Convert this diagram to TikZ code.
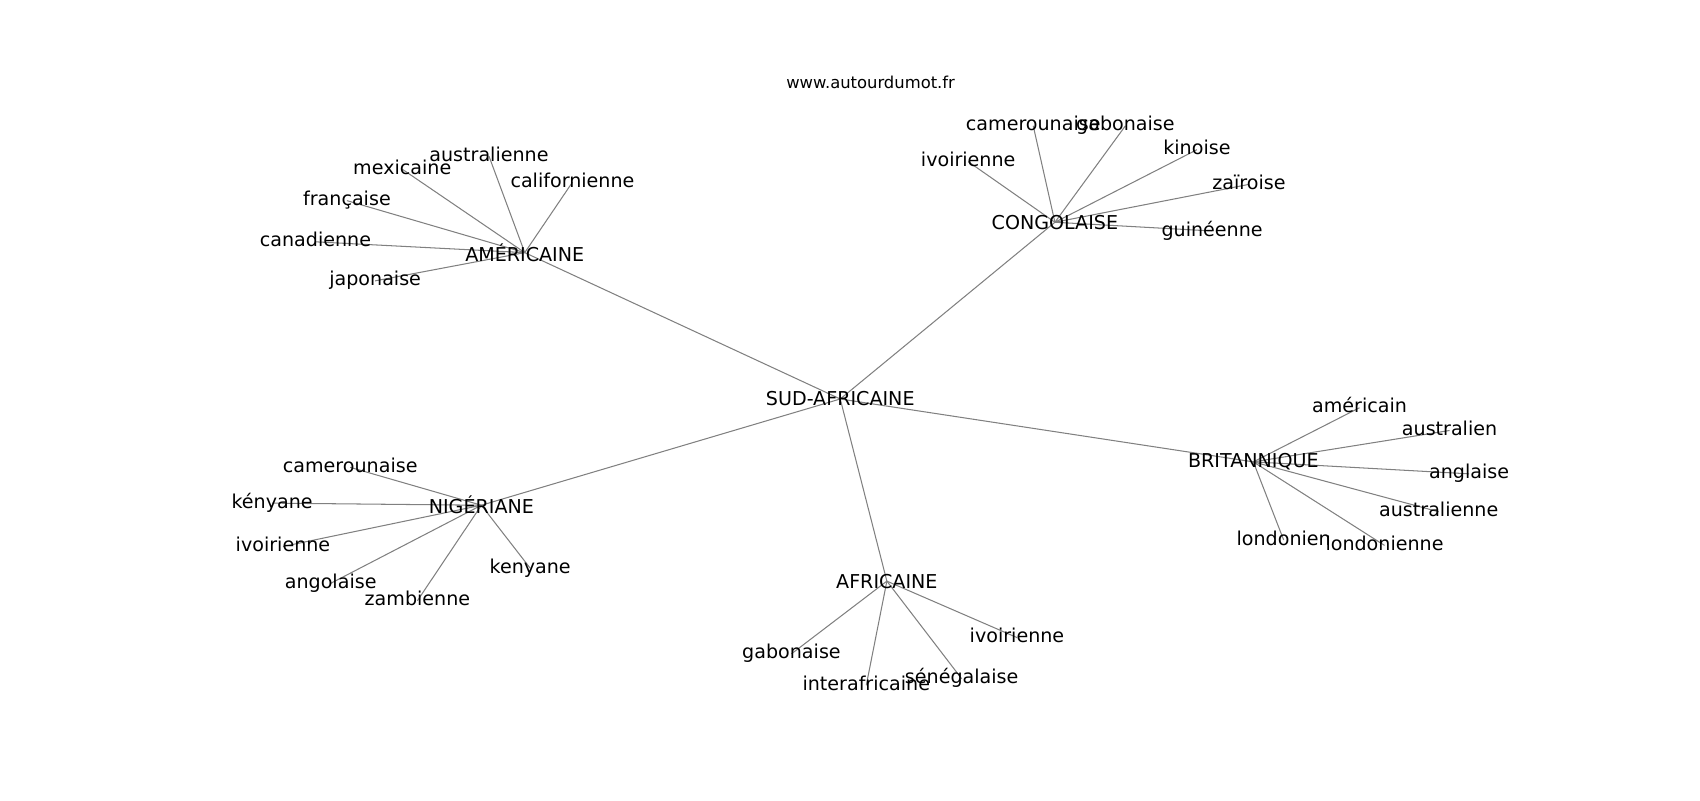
\documentclass[tikz,border=0pt]{standalone}
\usepackage{fontspec}
\setmainfont{DejaVu Sans}
\pgfdeclarelayer{background}
\pgfsetlayers{background,main}
\tikzset{
  lbl/.style={inner sep=0pt, anchor=center, font=\fontsize{13.75}{16}\selectfont, text=black},
  leaf/.style={lbl, text height=0.73em, text depth=0pt, yshift=-1.6pt},
  ttl/.style={inner sep=0pt, anchor=center, font=\fontsize{11.8}{14}\selectfont, text=black},
  edge/.style={draw=black!50, line width=0.75pt}
}
\begin{document}
\begin{tikzpicture}[x=0.7806pt,y=-0.7806pt]
\useasboundingbox (0,0) rectangle (1568,738);
\node[ttl] (title) at (803,76) {www.autourdumot.fr};
% hubs
\node[lbl] (sud) at (775,368) {SUD-AFRICAINE};
\node[lbl] (am) at (484,233) {AMÉRICAINE};
\node[lbl] (co) at (973,205) {CONGOLAISE};
\node[lbl] (ni) at (444,466) {NIGÉRIANE};
\node[lbl] (af) at (818,536) {AFRICAINE};
\node[lbl] (br) at (1156,426) {BRITANNIQUE};
% AMERICAINE leaves
\node[leaf] (am1) at (451,142) {australienne};
\node[leaf] (am2) at (371,154) {mexicaine};
\node[leaf] (am3) at (528,166) {californienne};
\node[leaf] (am4) at (320,183) {française};
\node[leaf] (am5) at (291,221) {canadienne};
\node[leaf] (am6) at (346,257) {japonaise};
% CONGOLAISE leaves
\node[leaf] (co1) at (953,114) {camerounaise};
\node[leaf] (co2) at (1038,114) {gabonaise};
\node[leaf] (co3) at (893,147) {ivoirienne};
\node[leaf] (co4) at (1104,136) {kinoise};
\node[leaf] (co5) at (1152,168) {zaïroise};
\node[leaf] (co6) at (1118,211) {guinéenne};
% NIGERIANE leaves
\node[leaf] (ni1) at (323,429) {camerounaise};
\node[leaf] (ni2) at (251,462) {kényane};
\node[leaf] (ni3) at (261,502) {ivoirienne};
\node[leaf] (ni4) at (305,536) {angolaise};
\node[leaf] (ni5) at (385,552) {zambienne};
\node[leaf] (ni6) at (489,522) {kenyane};
% AFRICAINE leaves
\node[leaf] (af1) at (730,601) {gabonaise};
\node[leaf] (af2) at (799,630) {interafricaine};
\node[leaf] (af3) at (887,624) {sénégalaise};
\node[leaf] (af4) at (938,586) {ivoirienne};
% BRITANNIQUE leaves
\node[leaf] (br1) at (1254,374) {américain};
\node[leaf] (br2) at (1337,395) {australien};
\node[leaf] (br3) at (1355,435) {anglaise};
\node[leaf] (br4) at (1327,470) {australienne};
\node[leaf] (br5) at (1184,496) {londonien};
\node[leaf] (br6) at (1277,501) {londonienne};
\begin{pgfonlayer}{background}
\foreach \h in {am,co,ni,af,br}{\draw[edge] (sud.center) -- (\h.center);}
\foreach \l in {1,...,6}{
  \draw[edge] (am.center) -- (am\l.center);
  \draw[edge] (co.center) -- (co\l.center);
  \draw[edge] (ni.center) -- (ni\l.center);
  \draw[edge] (br.center) -- (br\l.center);
}
\foreach \l in {1,...,4}{\draw[edge] (af.center) -- (af\l.center);}
\end{pgfonlayer}
\end{tikzpicture}
\end{document}
